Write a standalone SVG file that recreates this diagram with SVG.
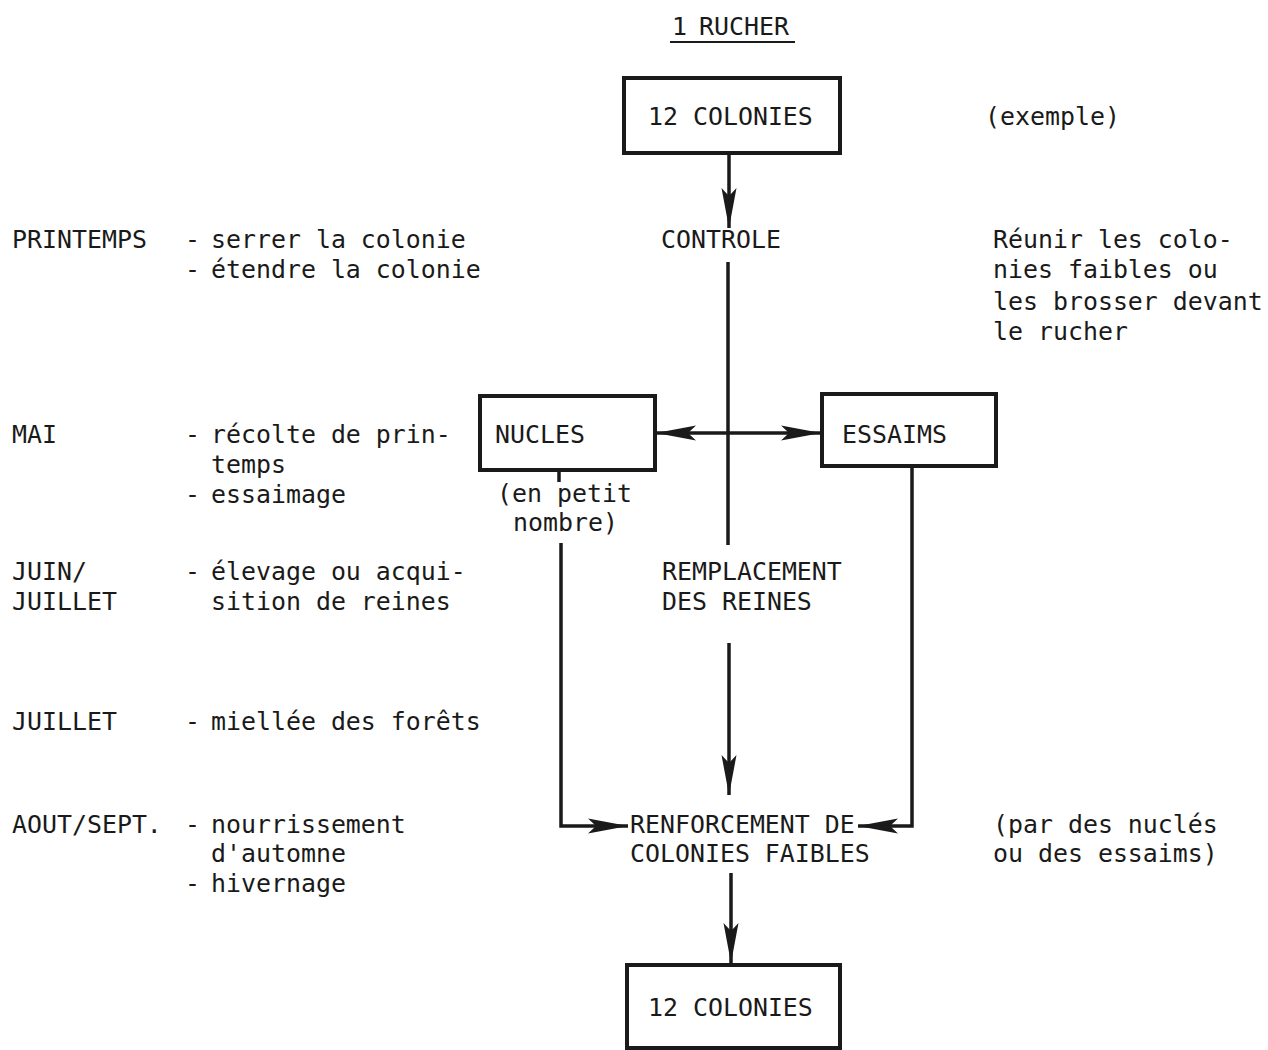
<svg xmlns="http://www.w3.org/2000/svg" width="1268" height="1050" viewBox="0 0 1268 1050">
<defs>
<style>
text{font-family:"DejaVu Sans Mono","Liberation Mono",monospace;font-size:24.9px;fill:#1a1a1a}
.box{fill:#fff;stroke:#1a1a1a;stroke-width:4}
.ln{fill:none;stroke:#1a1a1a;stroke-width:3.5}
</style>
<marker id="ah" markerUnits="userSpaceOnUse" viewBox="-42 -9 44 18" refX="0" refY="0" markerWidth="44" markerHeight="18" orient="auto-start-reverse">
<path d="M0,0 L-40,-7.5 L-32,0 L-40,7.5 Z" fill="#1a1a1a"/>
</marker>
</defs>
<rect width="1268" height="1050" fill="#fff"/>

<g id="title">
<text x="672" y="35">1</text>
<text x="699" y="35">RUCHER</text>
<line x1="670" y1="42" x2="795" y2="42" stroke="#1a1a1a" stroke-width="2"/>
</g>

<g id="connectors">
<line class="ln" x1="729" y1="153" x2="729" y2="228" marker-end="url(#ah)"/>
<line class="ln" x1="728" y1="262" x2="728" y2="545"/>
<line class="ln" x1="656" y1="433" x2="821" y2="433" marker-start="url(#ah)" marker-end="url(#ah)"/>
<line class="ln" x1="559" y1="470" x2="559" y2="482"/>
<polyline class="ln" points="561,543 561,826 628,826" marker-end="url(#ah)"/>
<polyline class="ln" points="912,466 912,826 858,826" marker-end="url(#ah)"/>
<line class="ln" x1="729" y1="643" x2="729" y2="795" marker-end="url(#ah)"/>
<line class="ln" x1="731" y1="873" x2="731" y2="963" marker-end="url(#ah)"/>
</g>

<g id="top-colonies">
<rect class="box" x="624" y="78" width="216" height="75"/>
<text x="648" y="125">12 COLONIES</text>
</g>
<g id="exemple"><text x="985" y="125">(exemple)</text></g>

<g id="controle"><text x="661" y="248">CONTROLE</text></g>

<g id="nucles">
<rect class="box" x="480" y="396" width="175" height="74"/>
<text x="495" y="443">NUCLES</text>
<text x="497" y="502">(en petit</text>
<text x="513" y="531">nombre)</text>
</g>

<g id="essaims">
<rect class="box" x="822" y="394" width="174" height="72"/>
<text x="842" y="443">ESSAIMS</text>
</g>

<g id="remplacement">
<text x="662" y="580">REMPLACEMENT</text>
<text x="662" y="610">DES REINES</text>
</g>

<g id="renforcement">
<text x="630" y="833">RENFORCEMENT DE</text>
<text x="630" y="862">COLONIES FAIBLES</text>
</g>

<g id="bottom-colonies">
<rect class="box" x="627" y="965" width="213" height="83"/>
<text x="648" y="1016">12 COLONIES</text>
</g>

<g id="left-column">
<text x="12" y="248">PRINTEMPS</text>
<text x="185" y="248">-</text><text x="211" y="248">serrer la colonie</text>
<text x="185" y="278">-</text><text x="211" y="278">étendre la colonie</text>
<text x="12" y="443">MAI</text>
<text x="185" y="443">-</text><text x="211" y="443">récolte de prin-</text>
<text x="211" y="473">temps</text>
<text x="185" y="503">-</text><text x="211" y="503">essaimage</text>
<text x="12" y="580">JUIN/</text>
<text x="12" y="610">JUILLET</text>
<text x="185" y="580">-</text><text x="211" y="580">élevage ou acqui-</text>
<text x="211" y="610">sition de reines</text>
<text x="12" y="730">JUILLET</text>
<text x="185" y="730">-</text><text x="211" y="730">miellée des forêts</text>
<text x="12" y="833">AOUT/SEPT.</text>
<text x="185" y="833">-</text><text x="211" y="833">nourrissement</text>
<text x="211" y="862">d'automne</text>
<text x="185" y="892">-</text><text x="211" y="892">hivernage</text>
</g>

<g id="right-column">
<text x="993" y="248">Réunir les colo-</text>
<text x="993" y="278">nies faibles ou</text>
<text x="993" y="310">les brosser devant</text>
<text x="993" y="340">le rucher</text>
<text x="993" y="833">(par des nuclés</text>
<text x="993" y="862">ou des essaims)</text>
</g>
</svg>
